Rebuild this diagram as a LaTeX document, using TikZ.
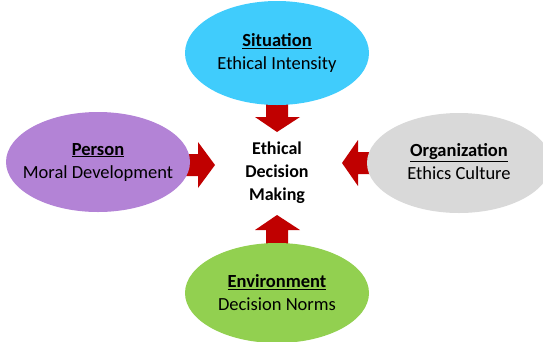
\documentclass[tikz,border=0pt]{standalone}
\usepackage{fontspec}
\setmainfont{Carlito}
\usetikzlibrary{shapes.geometric}
\definecolor{sitcol}{RGB}{64,204,252}
\definecolor{percol}{RGB}{179,131,214}
\definecolor{orgcol}{RGB}{217,217,217}
\definecolor{envcol}{RGB}{146,208,80}
\definecolor{arrcol}{RGB}{192,0,0}
\tikzset{
  blob/.style={ellipse, minimum width=184pt, minimum height=100pt, inner sep=0pt},
  blobtext/.style={align=center, inner sep=0pt, font=\fontsize{18.5}{23}\selectfont},
  centertext/.style={align=center, font=\fontsize{18}{23}\selectfont\bfseries},
  blockarrow/.style={fill=arrcol, draw=none}
}
\newcommand{\hd}[1]{\textbf{\underline{#1}}}
\begin{document}
\begin{tikzpicture}[x=1pt,y=-1pt]
\useasboundingbox (0,0) rectangle (543,341);
% block arrows (behind ellipses)
\fill[blockarrow] (266,95) -- (288,95) -- (288,117) -- (300,117) -- (277,132) -- (255,117) -- (266,117) -- cycle;
\fill[blockarrow] (266,250) -- (288,250) -- (288,230) -- (300,230) -- (277,215) -- (255,230) -- (266,230) -- cycle;
\fill[blockarrow] (180,154) -- (198,154) -- (198,142) -- (215,165) -- (198,188) -- (198,176) -- (180,176) -- cycle;
\fill[blockarrow] (378,152) -- (358,152) -- (358,140) -- (342,163) -- (358,186) -- (358,174) -- (378,174) -- cycle;
% ellipses
\node[blob, fill=sitcol, minimum height=104pt] (sit) at (277,53) {};
\node[blob, fill=percol] (per) at (98,162) {};
\node[blob, fill=orgcol] (org) at (459,163) {};
\node[blob, fill=envcol] (env) at (277,293) {};
\node[blobtext] (sitt) at (sit.center) {\hd{Situation}\\Ethical Intensity};
\node[blobtext] (pert) at (per.center) {\hd{Person}\\Moral Development};
\node[blobtext] (orgt) at ([yshift=1.5pt]org.center) {\hd{Organization}\\Ethics Culture};
\node[blobtext] (envt) at (env.center) {\hd{Environment}\\Decision Norms};
\node[centertext] (edm) at (277,173) {Ethical\\Decision\\Making};
\end{tikzpicture}
\end{document}
